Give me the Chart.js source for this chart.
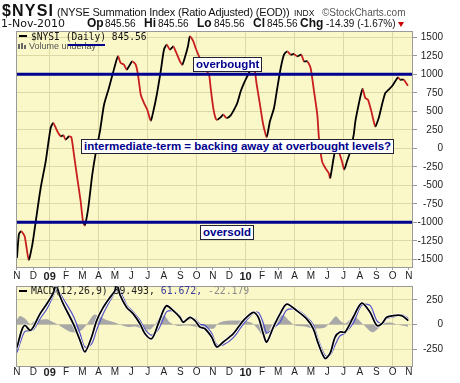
<!DOCTYPE html>
<html><head><meta charset="utf-8">
<script src="https://cdn.jsdelivr.net/npm/chart.js@4"></script>
<style>
html,body{margin:0;padding:0;background:#fff;width:460px;height:383px;overflow:hidden;position:relative;font-family:"Liberation Sans",Arial,sans-serif;color:#111;}
.a{position:absolute;white-space:nowrap;line-height:1;}
canvas{position:absolute;left:0;}
.box{position:absolute;background:#fff;border:1px solid #223;color:#00008C;font-weight:bold;font-size:11.5px;line-height:13px;height:13px;padding:0 2px;white-space:nowrap;font-family:"Liberation Sans",Arial,sans-serif;}
.mono{font-family:"DejaVu Sans Mono",monospace;}
</style></head><body>
<canvas id="c1" width="460" height="283" style="top:0;width:460px;height:283px"></canvas>
<canvas id="c2" width="460" height="103" style="top:280px;width:460px;height:103px"></canvas>

<div class="a" style="left:2px;top:3px;font-size:16px;font-weight:bold;letter-spacing:1.2px;">$NYSI</div>
<div class="a" style="left:57px;top:7px;font-size:11px;letter-spacing:-0.2px;">(NYSE Summation Index (Ratio Adjusted) (EOD))</div>
<div class="a" style="left:294px;top:9px;font-size:8.5px;">INDX</div>
<div class="a" style="left:322px;top:8px;font-size:10px;color:#555;">©StockCharts.com</div>

<div class="a" style="left:1px;top:18px;font-size:11px;font-family:'DejaVu Sans',sans-serif;">1-Nov-2010</div>
<div class="a" style="left:87px;top:17px;font-size:12px;font-weight:bold;">Op</div>
<div class="a" style="left:105px;top:18.5px;font-size:10px;">845.56</div>
<div class="a" style="left:144px;top:17px;font-size:12px;font-weight:bold;">Hi</div>
<div class="a" style="left:158px;top:18.5px;font-size:10px;">845.56</div>
<div class="a" style="left:197px;top:17px;font-size:12px;font-weight:bold;">Lo</div>
<div class="a" style="left:214px;top:18.5px;font-size:10px;">845.56</div>
<div class="a" style="left:253px;top:17px;font-size:12px;font-weight:bold;">Cl</div>
<div class="a" style="left:267px;top:18.5px;font-size:10px;">845.56</div>
<div class="a" style="left:300px;top:17px;font-size:12px;font-weight:bold;">Chg</div>
<div class="a" style="left:326px;top:18.5px;font-size:10px;">-14.39 (-1.67%)</div>
<div style="position:absolute;left:398px;top:22px;width:0;height:0;border-left:3.5px solid transparent;border-right:3.5px solid transparent;border-top:5px solid #C00;"></div>

<div style="position:absolute;left:19px;top:35px;width:8px;height:2px;background:#000;"></div>
<div class="a mono" style="left:31px;top:31.5px;font-size:9.6px;">$NYSI (Daily) 845.56</div>
<div style="position:absolute;left:18px;top:44px;width:2px;height:5px;background:#666;"></div>
<div style="position:absolute;left:21px;top:43px;width:2px;height:6px;background:#666;"></div>
<div style="position:absolute;left:24px;top:45px;width:2px;height:4px;background:#666;"></div>
<div class="a" style="left:29px;top:42px;font-size:9px;color:#555;">Volume underlay</div>
<div style="position:absolute;left:68px;top:44px;width:37px;height:2px;background:#00008C;"></div>

<div class="box" style="left:193px;top:57px;">overbought</div>
<div class="box" style="left:81px;top:139px;">intermediate-term = backing away at overbought levels?</div>
<div class="box" style="left:200px;top:225px;">oversold</div>

<div style="position:absolute;left:19px;top:290px;width:8px;height:2px;background:#000;"></div>
<div class="a mono" style="left:31px;top:286.3px;font-size:9.8px;"><span style="color:#222">MACD(12,26,9) 39.493,</span> <span style="color:#3A3A9A">61.672,</span> <span style="color:#8A8A8A">-22.179</span></div>

<script>
// ---- data ----
const monthLabels = ['N','D','09','F','M','A','M','J','J','A','S','O','N','D','10','F','M','A','M','J','J','A','S','O','N'];
const mainTicks = [-1500,-1250,-1000,-750,-500,-250,0,250,500,750,1000,1250,1500];
const macdTicks = [-250,0,250];
// months since 1-Nov-2008
const nysiMonths = [0.00,0.12,0.26,0.47,0.72,0.94,1.15,1.45,1.76,2.06,2.22,2.47,2.68,2.84,2.98,3.18,3.33,3.49,3.69,3.90,4.04,4.15,4.35,4.61,4.82,5.08,5.33,5.63,5.94,6.18,6.35,6.55,6.72,6.86,7.06,7.27,7.41,7.58,7.78,7.98,8.19,8.35,8.56,8.80,9.00,9.17,9.37,9.57,9.72,9.98,10.12,10.27,10.47,10.59,10.80,10.94,11.27,11.51,11.76,11.86,12.02,12.17,12.27,12.47,12.63,12.84,13.09,13.29,13.49,13.70,13.90,14.10,14.31,14.51,14.68,14.88,15.08,15.29,15.49,15.74,15.94,16.15,16.35,16.55,16.76,16.96,17.16,17.41,17.57,17.78,17.98,18.19,18.39,18.49,18.68,18.88,19.09,19.18,19.39,19.53,19.70,19.90,20.04,20.21,20.41,20.62,20.72,20.92,21.08,21.17,21.33,21.49,21.70,21.94,22.15,22.35,22.55,22.76,22.96,23.16,23.33,23.47,23.68,23.94];
const nysiValues = [-1480,-1158,-1121,-1189,-1505,-1302,-986,-536,-176,274,342,230,162,176,116,162,149,-86,-401,-716,-986,-1040,-829,-356,-64,230,589,815,1070,1243,1152,1130,1062,1108,1175,1130,994,724,612,521,373,500,724,1040,1332,1400,1332,1378,1310,1175,1130,1220,1378,1513,1446,1355,1180,1080,994,815,544,400,386,419,454,409,446,521,612,770,882,973,1062,1108,860,589,319,153,365,544,815,1085,1265,1310,1265,1274,1243,1265,1175,1175,1085,770,454,139,-176,-266,-334,-401,-131,0,-41,-176,-289,-176,-41,184,365,589,747,801,680,657,500,297,409,589,747,792,838,905,959,927,927,845.56];
const levels = [1000, -1000];

const macdMonths = [0.00,0.29,0.49,0.80,1.00,1.41,1.82,2.22,2.39,2.63,2.84,3.45,3.86,4.16,4.57,4.88,5.28,5.69,5.99,6.12,6.31,6.72,7.12,7.53,7.84,8.25,8.65,8.96,9.17,9.57,9.98,10.18,10.59,10.90,11.21,11.51,11.92,12.23,12.63,13.25,13.86,14.47,14.78,15.08,15.29,15.70,16.11,16.52,17.13,17.74,18.14,18.45,18.86,19.17,19.48,19.78,20.09,20.59,21.11,21.62,22.03,22.33,22.64,23.04,23.56,23.96];
const macdValues = [-235,-60,-10,-60,-27,108,208,320,400,290,208,7,-161,-278,-128,40,174,275,342,420,300,174,108,7,-94,-144,7,141,191,141,73,23,73,40,-27,-43,-128,-228,-178,-94,40,124,73,-94,-178,-27,108,208,141,57,-43,-194,-345,-295,-128,-77,-77,73,218,124,-10,7,73,91,91,39.493];
const signalValues = [-285,-140,-70,-65,-55,58,155,290,345,320,260,87,-91,-230,-198,-55,109,240,322,350,340,199,128,42,-49,-109,-53,56,131,136,88,33,60,55,3,-8,-88,-205,-208,-134,5,114,123,16,-88,-37,23,148,151,77,-3,-154,-315,-315,-208,-117,-87,13,198,194,40,7,58,76,101,61.672];
const histMonths = [0.00,0.18,0.49,0.80,1.04,1.41,1.84,2.14,2.51,2.88,3.37,3.86,4.23,4.47,4.72,5.08,5.57,6.00,6.31,6.80,7.23,7.66,8.14,8.45,8.76,9.06,9.37,9.86,10.29,10.72,11.21,11.70,12.06,12.31,12.74,13.35,13.96,14.39,14.76,15.06,15.37,15.68,15.98,16.35,16.72,17.02,17.64,18.07,18.43,18.86,19.17,19.53,19.78,20.09,20.41,20.72,21.02,21.39,21.76,22.12,22.42,22.85,23.27,23.58,23.94];
const histValues = [50,87,60,5,30,50,53,30,0,-40,-80,-70,-10,50,100,80,40,20,0,-25,-20,-40,-50,0,80,85,20,-15,-10,-15,-30,-40,-40,10,35,40,35,15,-50,-110,-80,10,80,90,30,-10,-20,-40,-40,-30,20,85,40,10,50,70,30,-30,-80,-40,10,20,0,-10,-22.179];

// ---- styling ----
const X_MIN = -0.06, X_MAX = 24.25;
const BG = '#FAF7C9', GRID = '#DDD9A6', FONT = 'Liberation Sans';
const pts = (xs, ys) => xs.map((x, i) => ({x: x, y: ys[i]}));

const panelPlugin = {
  id: 'panel',
  beforeDraw(c) {
    const a = c.chartArea, g = c.ctx;
    g.save(); g.fillStyle = BG; g.fillRect(a.left, a.top, a.right - a.left, a.bottom - a.top); g.restore();
  },
  afterDraw(c) {
    const a = c.chartArea, g = c.ctx;
    g.save(); g.strokeStyle = '#9A9A9A'; g.lineWidth = 1;
    g.strokeRect(Math.round(a.left) + 0.5, Math.round(a.top) + 0.5, Math.round(a.right - a.left) - 1, Math.round(a.bottom - a.top) - 1);
    g.restore();
  }
};

function xScale(h, tickLen, pad) {
  return {
    type: 'linear', min: X_MIN, max: X_MAX, position: 'bottom',
    afterFit: s => { s.height = h; },
    afterBuildTicks: s => { s.ticks = monthLabels.map((l, i) => ({value: i})); },
    border: {display: false},
    grid: {
      color: ctx => (ctx.tick && Math.round(ctx.tick.value) % 3 === 2) ? GRID : 'rgba(0,0,0,0)',
      tickColor: '#A0A0A0', tickLength: tickLen, drawTicks: tickLen > 0
    },
    ticks: {
      autoSkip: false, maxRotation: 0, minRotation: 0, padding: pad,
      color: '#222',
      callback: v => monthLabels[Math.round(v)] || '',
      font: ctx => {
        const l = ctx.tick ? (monthLabels[Math.round(ctx.tick.value)] || '') : '';
        return l.length === 2 ? {family: FONT, size: 11, weight: 'bold'} : {family: FONT, size: 10};
      }
    }
  };
}

function yScale(min, max, tickVals) {
  return {
    position: 'right', min: min, max: max,
    afterFit: s => { s.width = 30; },
    afterBuildTicks: s => { s.ticks = tickVals.map(v => ({value: v})); },
    border: {display: false},
    grid: {color: GRID, tickColor: '#999', tickLength: 4},
    ticks: {autoSkip: false, crossAlign: 'far', padding: 0, color: '#222',
      font: {family: FONT, size: 10}, callback: v => String(v)}
  };
}

new Chart(document.getElementById('c1'), {
  type: 'line',
  data: {datasets: [
    {data: pts(nysiMonths, nysiValues), borderColor: '#000', borderWidth: 1.8, pointRadius: 0, tension: 0.2,
      segment: {borderColor: ctx => ctx.p1.parsed.y >= ctx.p0.parsed.y ? '#000000' : '#C81E1E'}, order: 2},
    ...levels.map(v => ({data: [{x: X_MIN, y: v}, {x: X_MAX, y: v}], borderColor: '#00008F', borderWidth: 3, pointRadius: 0, order: 1}))
  ]},
  options: {
    animation: false, responsive: false, devicePixelRatio: 1,
    layout: {padding: {left: 16, top: 31, right: 17, bottom: 0}},
    plugins: {legend: {display: false}, tooltip: {enabled: false}},
    scales: {x: xScale(15, 2, 0), y: yScale(-1617, 1585, mainTicks)}
  },
  plugins: [panelPlugin]
});

new Chart(document.getElementById('c2'), {
  type: 'line',
  data: {datasets: [
    {data: pts(histMonths, histValues), borderWidth: 0, borderColor: 'rgba(0,0,0,0)', backgroundColor: '#A8A8A8', fill: 'origin', pointRadius: 0, tension: 0.3, order: 4},
    {data: pts(macdMonths, signalValues), borderColor: '#5050C8', borderWidth: 1.2, pointRadius: 0, tension: 0.3, order: 3},
    {data: pts(macdMonths, macdValues), borderColor: '#FFFFFF', borderWidth: 3.2, pointRadius: 0, tension: 0.3, order: 2},
    {data: pts(macdMonths, macdValues), borderColor: '#000000', borderWidth: 1.8, pointRadius: 0, tension: 0.3, order: 1}
  ]},
  options: {
    animation: false, responsive: false, devicePixelRatio: 1,
    layout: {padding: {left: 16, top: 5, right: 17, bottom: 0}},
    plugins: {legend: {display: false}, tooltip: {enabled: false}},
    scales: {x: xScale(16, 0, -1), y: yScale(-433, 392, macdTicks)}
  },
  plugins: [panelPlugin]
});
</script>
</body></html>
